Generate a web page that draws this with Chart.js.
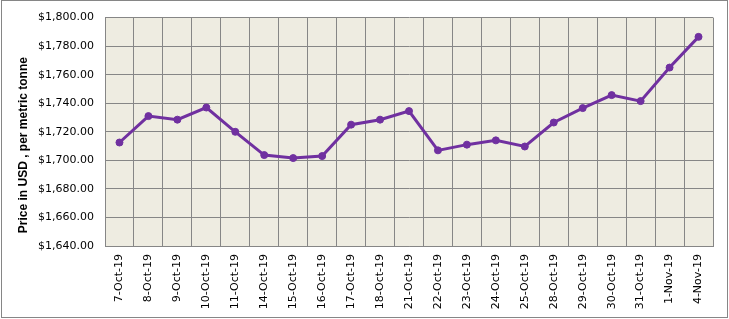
<!DOCTYPE html>
<html>
<head>
<meta charset="utf-8">
<script src="https://cdn.jsdelivr.net/npm/chart.js@4/dist/chart.umd.min.js"></script>
<style>
  html, body { margin: 0; padding: 0; background: #fff; }
  #wrap { width: 729px; height: 319px; }
</style>
</head>
<body>
<div id="wrap"><canvas id="priceChart" width="729" height="319"></canvas></div>
<script>
// data
const dates = ['7-Oct-19', '8-Oct-19', '9-Oct-19', '10-Oct-19', '11-Oct-19', '14-Oct-19', '15-Oct-19',
  '16-Oct-19', '17-Oct-19', '18-Oct-19', '21-Oct-19', '22-Oct-19', '23-Oct-19', '24-Oct-19', '25-Oct-19',
  '28-Oct-19', '29-Oct-19', '30-Oct-19', '31-Oct-19', '1-Nov-19', '4-Nov-19'];
const prices = [1712.5, 1731, 1728.5, 1737, 1720, 1703.7, 1701.6, 1703, 1725, 1728.5, 1734.5,
  1707, 1711, 1714, 1709.7, 1726.5, 1736.6, 1745.7, 1741.5, 1765, 1786.5];
const yMin = 1640, yMax = 1800, yStep = 20;

const money = new Intl.NumberFormat('en-US', { style: 'currency', currency: 'USD', minimumFractionDigits: 2 });

// plot background + outer frame
const frame = {
  id: 'frame',
  beforeDraw(chart) {
    const { ctx, chartArea: a } = chart;
    ctx.save();
    ctx.fillStyle = '#EEECE1';
    ctx.fillRect(a.left, a.top, a.right - a.left, a.bottom - a.top);
    ctx.restore();
  },
  afterDraw(chart) {
    const ctx = chart.ctx;
    ctx.save();
    ctx.strokeStyle = '#868686';
    ctx.lineWidth = 1;
    ctx.strokeRect(1.5, 0.5, 726, 317);
    ctx.restore();
  }
};

new Chart(document.getElementById('priceChart'), {
  type: 'line',
  data: {
    labels: dates,
    datasets: [{
      data: prices,
      borderColor: '#7030A0',
      backgroundColor: '#7030A0',
      borderWidth: 3,
      pointRadius: 3.5,
      pointBorderWidth: 1,
      pointHoverRadius: 3.5,
      tension: 0
    }]
  },
  options: {
    responsive: false,
    animation: false,
    layout: { padding: { top: 14, right: 16, left: 0, bottom: 0 } },
    plugins: { legend: { display: false }, tooltip: { enabled: false } },
    scales: {
      x: {
        offset: true,
        grid: { offset: true, color: '#868686', lineWidth: 1, drawTicks: false },
        border: { color: '#868686' },
        ticks: {
          maxRotation: 90, minRotation: 90, autoSkip: false, padding: 8,
          color: '#000', font: { family: 'DejaVu Sans', size: 11 }
        },
        afterFit: s => { s.height = 73; }
      },
      y: {
        min: yMin, max: yMax,
        grid: { color: '#868686', lineWidth: 1, drawTicks: false },
        border: { color: '#868686' },
        ticks: {
          stepSize: yStep, padding: 11, color: '#000',
          font: { family: 'DejaVu Sans', size: 11 },
          callback: v => money.format(v)
        },
        title: {
          display: true,
          // trailing spaces nudge the title a bit lower, like the original
          text: 'Price in USD , per metric tonne        ',
          color: '#000',
          font: { family: 'Liberation Sans', size: 12, weight: 'bold' },
          padding: { top: 16, bottom: 0 }
        },
        afterFit: s => { s.width = 105; }
      }
    }
  },
  plugins: [frame]
});
</script>
</body>
</html>
